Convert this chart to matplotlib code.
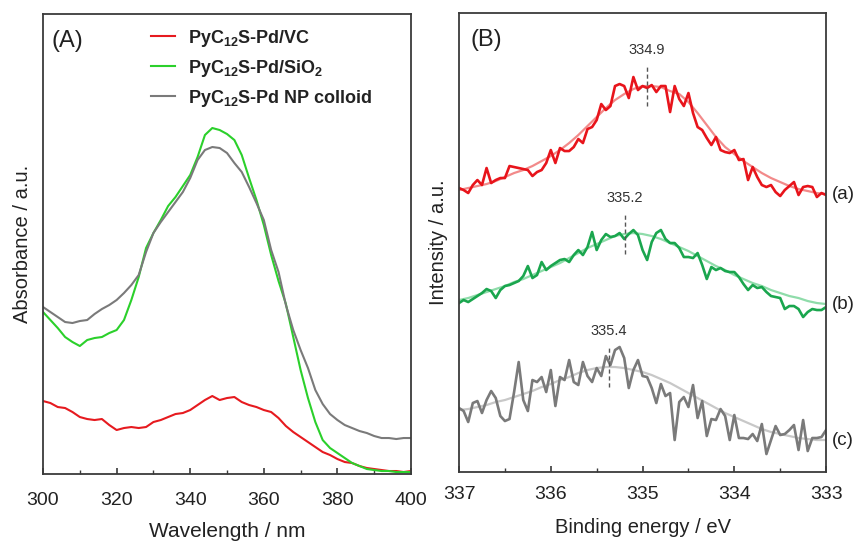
import matplotlib
matplotlib.use('Agg')
import matplotlib.pyplot as plt
import numpy as np

plt.rcParams['font.family'] = ['Liberation Sans', 'DejaVu Sans']
plt.rcParams['mathtext.fontset'] = 'custom'
plt.rcParams['mathtext.rm'] = 'Liberation Sans'
plt.rcParams['mathtext.bf'] = 'Liberation Sans:bold'

# ---- panel A: UV-vis absorbance (a.u.), 300-400 nm every 2 nm ----
wavelength = np.arange(300, 401, 2)
abs_vc = [73, 71, 67, 66, 62, 57, 55, 54, 55, 49, 44, 46, 47, 46, 47, 52, 54, 57, 60, 61,
          64, 69, 74, 78, 74, 76, 77, 72, 69, 67, 64, 62, 56, 48, 42, 37, 32, 27, 22, 19,
          15, 12, 11, 8, 6, 5, 4, 3, 3, 2, 3]
abs_sio2 = [162, 154, 146, 137, 132, 128, 134, 136, 137, 141, 144, 154, 174, 197, 226, 241, 254, 268, 277, 288,
            299, 317, 339, 346, 344, 340, 334, 319, 296, 274, 249, 219, 193, 170, 137, 104, 76, 52, 34, 26,
            21, 16, 11, 8, 5, 4, 3, 3, 2, 2, 2]
abs_colloid = [167, 162, 157, 152, 151, 153, 154, 160, 165, 169, 174, 181, 189, 199, 222, 241, 252, 262, 272, 282,
               296, 314, 324, 327, 326, 321, 311, 302, 287, 271, 254, 224, 202, 169, 144, 124, 106, 84, 70, 60,
               54, 49, 46, 43, 41, 38, 36, 36, 35, 36, 36]
legend_labels = [r'PyC$_{\mathbf{12}}$S-Pd/VC', r'PyC$_{\mathbf{12}}$S-Pd/SiO$_{\mathbf{2}}$',
                 r'PyC$_{\mathbf{12}}$S-Pd NP colloid']

# ---- panel B: Pd 3d XPS, 337-333 eV every 0.05 eV (curves stacked) ----
energy = np.linspace(337, 333, 81)
xps_a = [284, 282, 279, 287, 292, 287, 304, 289, 292, 294, 294, 306, 305, 304, 303, 302, 296, 300, 302, 309,
         322, 309, 324, 321, 321, 325, 333, 329, 343, 345, 352, 368, 362, 366, 386, 388, 386, 374, 395, 382,
         386, 384, 387, 380, 386, 386, 360, 386, 373, 366, 379, 359, 345, 342, 334, 327, 335, 322, 320, 319,
         322, 312, 313, 292, 305, 295, 287, 285, 287, 280, 276, 282, 286, 290, 277, 285, 286, 285, 275, 279, 277]
xps_b = [169, 172, 170, 173, 176, 179, 183, 181, 174, 182, 186, 187, 189, 191, 196, 206, 194, 197, 210, 202,
         206, 209, 212, 213, 210, 217, 222, 217, 225, 240, 222, 232, 238, 235, 236, 239, 233, 238, 242, 237,
         222, 212, 230, 239, 242, 233, 229, 229, 224, 215, 215, 214, 219, 207, 193, 205, 202, 204, 201, 200,
         200, 195, 188, 182, 187, 184, 185, 180, 176, 175, 174, 163, 166, 166, 163, 155, 160, 163, 162, 162, 165]
xps_c = [64, 61, 50, 69, 71, 59, 72, 81, 74, 56, 51, 53, 80, 110, 72, 61, 92, 90, 95, 80,
         102, 66, 95, 92, 112, 90, 87, 110, 96, 90, 104, 96, 116, 107, 122, 125, 114, 84, 102, 112,
         96, 95, 84, 69, 88, 76, 79, 32, 70, 75, 65, 87, 54, 71, 36, 53, 52, 63, 56, 32,
         57, 34, 34, 33, 38, 31, 48, 18, 32, 46, 37, 38, 42, 47, 22, 52, 21, 34, 34, 35, 42]

# fitted envelopes, every 0.1 eV
energy_fit = np.linspace(337, 333, 41)
fit_a = [282, 284, 286, 288, 291, 295, 299, 302, 306, 311, 316, 322, 329, 337, 346, 355, 364, 372, 378, 383,
         386, 386, 385, 381, 378, 370, 359, 347, 335, 325, 318, 311, 305, 299, 294, 290, 286, 283, 281, 279, 278]
fit_b = [172, 174, 177, 180, 183, 186, 190, 193, 197, 201, 205, 209, 214, 219, 224, 228, 232, 236, 238, 239,
         238, 236, 233, 229, 225, 221, 216, 211, 206, 202, 197, 193, 189, 186, 182, 179, 176, 174, 171, 169, 168]
fit_c = [62, 63, 65, 67, 70, 72, 75, 78, 81, 85, 88, 92, 95, 99, 102, 104, 105, 105, 104, 102,
         100, 97, 93, 89, 84, 79, 74, 69, 64, 59, 55, 51, 47, 43, 40, 38, 36, 34, 33, 32, 32]
peak_pos = [334.95, 335.19, 335.37]
peak_text = ['334.9', '335.2', '335.4']
curve_tags = ['(a)', '(b)', '(c)']

fig = plt.figure(figsize=(8.64, 5.41), dpi=100)
axA = fig.add_axes([0.0498, 0.1238, 0.4259, 0.8503])
axB = fig.add_axes([0.5313, 0.1275, 0.4248, 0.8484])

spine_col = '#3a3a3a'
for ax in (axA, axB):
    for s in ax.spines.values():
        s.set_color(spine_col)
        s.set_linewidth(1.3)
    ax.set_yticks([])
    ax.tick_params(axis='x', which='both', direction='in', top=False, color=spine_col,
                   labelsize=14, labelcolor='#222222')
    ax.tick_params(axis='x', which='major', length=4, width=1.2)
    ax.tick_params(axis='x', which='minor', length=3, width=1.0)
axA.tick_params(axis='x', which='major', pad=13)
axB.tick_params(axis='x', which='major', pad=10)

# panel A
axA.plot(wavelength, abs_vc, color='#e61a1f', lw=1.5, label=legend_labels[0])
axA.plot(wavelength, abs_sio2, color='#2bd02b', lw=1.5, label=legend_labels[1])
axA.plot(wavelength, abs_colloid, color='#7a7a7a', lw=1.5, label=legend_labels[2])
axA.set_xlim(300, 400)
axA.set_ylim(0, 460)
axA.set_xticks(np.arange(300, 401, 20))
axA.set_xticks(np.arange(300, 401, 10), minor=True)
axA.set_xlabel('Wavelength / nm', fontsize=15, color='#222222', labelpad=9)
axA.set_ylabel('Absorbance / a.u.', fontsize=14.5, color='#222222', labelpad=8)
axA.text(0.022, 0.965, '(A)', transform=axA.transAxes, fontsize=17, va='top', color='#222222')
leg = axA.legend(loc='upper left', bbox_to_anchor=(0.268, 0.99), frameon=False, borderpad=0,
                 handlelength=1.35, handletextpad=0.7, labelspacing=0.5,
                 prop={'weight': 'bold', 'size': 13})
for t in leg.get_texts():
    t.set_color('#222222')

# panel B
cols = ['#e8141b', '#1aa64e', '#7a7a7a']
fit_cols = ['#f28a8a', '#8fdcaa', '#c8c8c8']
datas = [xps_a, xps_b, xps_c]
fits = [fit_a, fit_b, fit_c]
for i in range(3):
    axB.plot(energy_fit, fits[i], color=fit_cols[i], lw=1.6)
    axB.plot(energy, datas[i], color=cols[i], lw=1.9)
    yp = np.interp(peak_pos[i], energy_fit[::-1], fits[i][::-1])
    axB.plot([peak_pos[i], peak_pos[i]], [yp - 20, yp + 20], color='#555555', lw=1.0, ls=(0, (3, 2)))
    axB.text(peak_pos[i], yp + 36, peak_text[i], ha='center', va='center', fontsize=10.5, color='#333333')
    axB.text(1.015, fits[i][-1], curve_tags[i], transform=axB.get_yaxis_transform(),
             ha='left', va='center', fontsize=13.5, color='#222222', clip_on=False)
axB.set_xlim(337, 333)
axB.set_ylim(0, 459)
axB.set_xticks(np.arange(333, 337.5, 1))
axB.set_xticks(np.arange(333, 337.1, 0.5), minor=True)
axB.set_xticklabels([f'{v:.0f}' for v in np.arange(333, 337.5, 1)])
axB.set_xlabel('Binding energy / eV', fontsize=14.5, color='#222222', labelpad=11)
axB.set_ylabel('Intensity / a.u.', fontsize=14.5, color='#222222', labelpad=8)
axB.text(0.03, 0.965, '(B)', transform=axB.transAxes, fontsize=17, va='top', color='#222222')

fig.savefig('out.png', dpi=100)
